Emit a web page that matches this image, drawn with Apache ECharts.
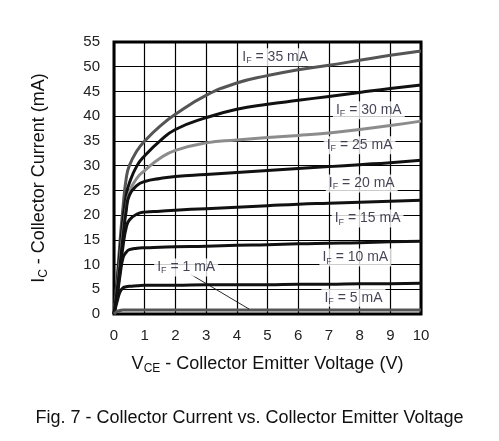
<!DOCTYPE html>
<html>
<head>
<meta charset="utf-8">
<script src="https://cdn.jsdelivr.net/npm/echarts@6/dist/echarts.min.js"></script>
<style>
html,body{margin:0;padding:0;background:#fff;}
#chart{width:499px;height:441px;}
</style>
</head>
<body>
<div id="chart"></div>
<script>
// VCE (V) sample points shared by every curve
var vce = [0, 0.1, 0.2, 0.3, 0.4, 0.5, 0.75, 1, 1.5, 2, 3, 4, 5, 6, 7, 8, 9, 10];
// IC (mA) for each IF
var ic35 = [0, 7, 15, 22, 27.5, 30, 33, 35, 38, 40.4, 44.2, 46.7, 48.2, 49.4, 50.3, 51.3, 52.3, 53.2];
var ic30 = [0, 6, 13, 19.5, 24, 26.5, 30, 32, 35, 37.3, 39.7, 41.4, 42.4, 43.2, 44, 44.8, 45.6, 46.3];
var ic25 = [0, 5, 11, 17, 21.5, 24.5, 27.5, 29, 31.5, 33.1, 34.6, 35.2, 35.7, 36.1, 36.6, 37.3, 38.1, 39];
var ic20 = [0, 4.5, 10, 16, 21, 24, 26, 26.8, 27.4, 27.8, 28.2, 28.6, 29, 29.4, 29.8, 30.2, 30.6, 31.1];
var ic15 = [0, 4, 9, 14, 17.5, 19, 20.2, 20.6, 20.8, 21, 21.3, 21.6, 21.9, 22.2, 22.4, 22.6, 22.8, 23];
var ic10 = [0, 3.5, 8, 11.5, 12.5, 13, 13.3, 13.4, 13.5, 13.6, 13.7, 13.9, 14, 14.2, 14.3, 14.4, 14.6, 14.7];
var ic5 = [0, 2.5, 4.5, 5.3, 5.5, 5.6, 5.7, 5.8, 5.8, 5.8, 5.9, 5.9, 5.9, 6, 6, 6.1, 6.1, 6.2];
var ic1 = [0, 0.5, 0.7, 0.8, 0.8, 0.8, 0.8, 0.8, 0.8, 0.8, 0.8, 0.8, 0.8, 0.8, 0.8, 0.8, 0.8, 0.8];

var ifNames = ['35', '30', '25', '20', '15', '10', '5', '1'];
var curveColors = ['#555555', '#111111', '#8c8c8c', '#111111', '#111111', '#111111', '#111111', '#555555'];
// label anchor points (V, mA)
var labelV = [5.25, 8.3, 8.0, 8.07, 8.26, 7.86, 7.8, 2.35];
var labelI = [51.9, 41.2, 34.1, 26.4, 19.3, 11.4, 3.3, 9.4];
// leader line for IF = 1 mA
var leaderV = [2.5, 4.4];
var leaderI = [8.0, 1.0];

var xTicks = [0, 1, 2, 3, 4, 5, 6, 7, 8, 9, 10];
var yTicks = [0, 5, 10, 15, 20, 25, 30, 35, 40, 45, 50, 55];

var FONT = '"Liberation Sans", Arial, sans-serif';

function pairs(xs, ys) {
	return xs.map(function (x, i) { return [x, ys[i]]; });
}

var curves = [ic35, ic30, ic25, ic20, ic15, ic10, ic5, ic1];
var series = curves.map(function (c, k) {
	return {
		name: 'IF = ' + ifNames[k] + ' mA',
		type: 'line',
		smooth: 0.5,
		symbol: 'none',
		data: pairs(vce, c),
		lineStyle: { color: curveColors[k], width: 3 },
		z: 3
	};
});

series.push({
	type: 'line',
	symbol: 'none',
	data: pairs(leaderV, leaderI),
	lineStyle: { color: '#111', width: 0.9 },
	z: 4
});

series.push({
	type: 'scatter',
	symbolSize: 0,
	data: labelV.map(function (v, i) { return [v, labelI[i], ifNames[i]]; }),
	label: {
		show: true,
		position: 'inside',
		backgroundColor: '#fff',
		padding: [1, 3, 1, 3],
		formatter: function (p) {
			return '{i|I}{s|F}{i| = ' + p.data[2] + ' mA}';
		},
		rich: {
			i: { fontSize: 14, color: '#14142a', fontFamily: FONT },
			s: { fontSize: 9, color: '#14142a', fontFamily: FONT, verticalAlign: 'bottom', padding: [7, 0, 0, 0] }
		}
	},
	z: 10
});

var chart = echarts.init(document.getElementById('chart'));
chart.setOption({
	animation: false,
	backgroundColor: '#fff',
	title: {
		text: 'Fig. 7 - Collector Current vs. Collector Emitter Voltage',
		left: 'center',
		top: 404,
		textStyle: { fontFamily: FONT, fontSize: 18, fontWeight: 'normal', color: '#111' }
	},
	grid: {
		left: 114, right: 78, top: 42, bottom: 127,
		show: true, borderColor: '#000', borderWidth: 3
	},
	xAxis: {
		type: 'value',
		min: xTicks[0], max: xTicks[xTicks.length - 1], interval: 1,
		name: '{m|V}{s|CE}{m| - Collector Emitter Voltage (V)}',
		nameLocation: 'middle',
		nameGap: 40,
		nameTextStyle: {
			rich: {
				m: { fontSize: 18, fontFamily: FONT, color: '#111' },
				s: { fontSize: 12, fontFamily: FONT, color: '#111', verticalAlign: 'bottom', padding: [9, 0, 0, 0] }
			}
		},
		axisLine: { show: false },
		axisTick: { show: false },
		axisLabel: { fontSize: 15, fontFamily: FONT, color: '#222', margin: 14 },
		splitLine: { show: true, lineStyle: { color: '#000', width: 1.2 } }
	},
	yAxis: {
		type: 'value',
		min: yTicks[0], max: yTicks[yTicks.length - 1], interval: 5,
		name: '{m|I}{s|C}{m| - Collector Current (mA)}',
		nameLocation: 'middle',
		nameGap: 64,
		nameTextStyle: {
			rich: {
				m: { fontSize: 18, fontFamily: FONT, color: '#111' },
				s: { fontSize: 12, fontFamily: FONT, color: '#111', verticalAlign: 'bottom', padding: [9, 0, 0, 0] }
			}
		},
		axisLine: { show: false },
		axisTick: { show: false },
		axisLabel: { fontSize: 15, fontFamily: FONT, color: '#222', margin: 14 },
		splitLine: { show: true, lineStyle: { color: '#000', width: 1.2 } }
	},
	series: series
});
</script>
</body>
</html>
